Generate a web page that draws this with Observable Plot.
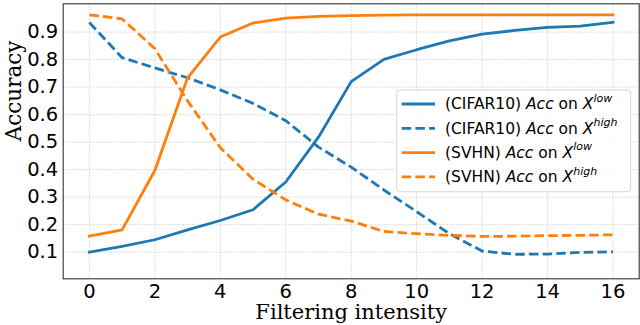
<!DOCTYPE html>
<html><head><meta charset="utf-8">
<script src="https://cdn.jsdelivr.net/npm/d3@7"></script>
<script src="https://cdn.jsdelivr.net/npm/@observablehq/plot@0.6"></script>
<style>body{margin:0;background:#fff} svg{display:block}</style>
</head><body><div id="chart"></div>
<script>
const steps = [0,1,2,3,4,5,6,7,8,9,10,11,12,13,14,15,16];
const cifarLow  = [0.100,0.121,0.145,0.181,0.215,0.254,0.355,0.518,0.720,0.801,0.836,0.868,0.893,0.906,0.917,0.922,0.936];
const cifarHigh = [0.935,0.807,0.770,0.734,0.690,0.641,0.578,0.482,0.409,0.326,0.247,0.167,0.104,0.092,0.093,0.099,0.101];
const svhnLow   = [0.158,0.181,0.397,0.734,0.882,0.933,0.951,0.957,0.960,0.962,0.963,0.963,0.963,0.963,0.963,0.963,0.963];
const svhnHigh  = [0.963,0.948,0.840,0.650,0.480,0.365,0.290,0.238,0.213,0.175,0.167,0.161,0.157,0.158,0.160,0.161,0.163];
const datasetNames = ["(CIFAR10)","(CIFAR10)","(SVHN)","(SVHN)"];
const setNames = ["low","high","low","high"];
const seriesColors = ["#1f77b4","#1f77b4","#ff7f0e","#ff7f0e"];
const seriesDashed = [false,true,false,true];
const xTicks = [0,2,4,6,8,10,12,14,16];
const yTicks = [0.1,0.2,0.3,0.4,0.5,0.6,0.7,0.8,0.9];
const xLabel = "Filtering intensity";
const yLabel = "Accuracy";

const seriesValues = [cifarLow, cifarHigh, svhnLow, svhnHigh];
const seriesRows = seriesValues.map(vals => steps.map((s, i) => ({step: s, acc: vals[i]})));

const lineMarks = seriesRows.map((rows, k) => Plot.line(rows, {
  x: "step", y: "acc", stroke: seriesColors[k], strokeWidth: 2.8,
  strokeDasharray: seriesDashed[k] ? "9.5,4.2" : null,
  strokeLinecap: seriesDashed[k] ? "butt" : "square",
  strokeLinejoin: "round"
}));

const gridStyle = {stroke: "#cfcfcf", strokeOpacity: 1, strokeWidth: 0.9, strokeDasharray: "1.5,1.5"};

const chart = Plot.plot({
  width: 640, height: 325,
  marginLeft: 62.7, marginRight: 1.3, marginTop: 3.3, marginBottom: 46.7,
  style: {fontFamily: "DejaVu Sans", fontSize: "19.5px", color: "#000", background: "#fff", overflow: "visible"},
  x: {domain: [-0.8, 16.8], label: null},
  y: {domain: [0.003, 1.003], label: null},
  marks: [
    Plot.gridX(xTicks, gridStyle),
    Plot.gridY(yTicks, gridStyle),
    ...lineMarks,
    Plot.frame({stroke: "#333", strokeWidth: 1.1}),
    Plot.axisX(xTicks, {tickSize: 0, tickPadding: 5, tickFormat: d => String(d), label: null}),
    Plot.axisY(yTicks, {tickSize: 0, tickPadding: 5, tickFormat: d => d.toFixed(1), label: null}),
    Plot.text([xLabel], {text: d => d, frameAnchor: "bottom", dy: 40, lineAnchor: "bottom",
      fontFamily: "DejaVu Serif", fontSize: 21, fill: "#000"}),
    Plot.text([yLabel], {text: d => d, frameAnchor: "left", dx: -41.8, rotate: -90, lineAnchor: "bottom",
      fontFamily: "DejaVu Serif", fontSize: 21.5, fill: "#000"})
  ]
});

// legend
const svg = d3.select(chart);
const lg = svg.append("g").attr("font-family", "DejaVu Sans").attr("font-size", 15.5).attr("text-anchor", "start");
lg.append("rect").attr("x", 396.7).attr("y", 90).attr("width", 234).attr("height", 101.7)
  .attr("rx", 3).attr("fill", "#fff").attr("fill-opacity", 0.85).attr("stroke", "#d6d6d6").attr("stroke-width", 1);
datasetNames.forEach((name, k) => {
  const cy = 104 + k * 24.3;
  lg.append("line").attr("x1", 401.7).attr("x2", 435).attr("y1", cy).attr("y2", cy)
    .attr("stroke", seriesColors[k]).attr("stroke-width", 2.8)
    .attr("stroke-dasharray", seriesDashed[k] ? "9.5,4.2" : null);
  const t = lg.append("text").attr("x", 445).attr("y", cy + 5.3).attr("fill", "#000").attr("text-anchor", "start");
  t.append("tspan").text(name + " ");
  t.append("tspan").attr("font-style", "italic").text("Acc");
  t.append("tspan").text(" on ");
  t.append("tspan").attr("font-style", "italic").text("X");
  t.append("tspan").attr("font-style", "italic").attr("font-size", 11).attr("dy", -7.6).text(setNames[k]);
});

document.getElementById("chart").append(chart);
</script>
</body></html>
